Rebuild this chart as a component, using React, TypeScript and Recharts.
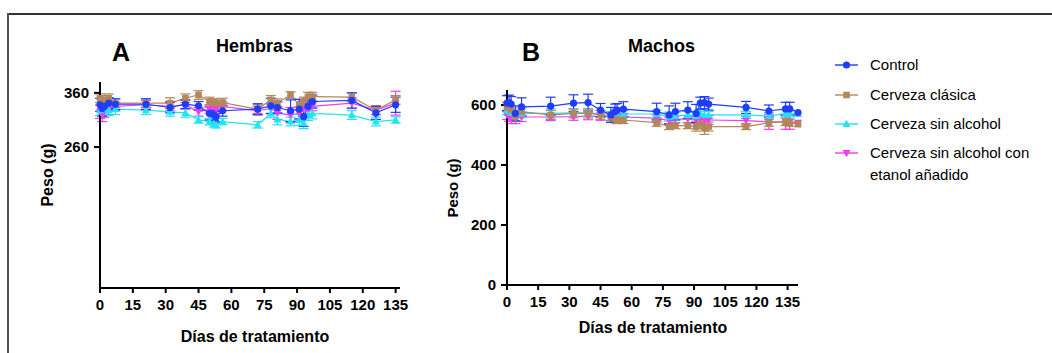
import React from "react";
import { LineChart, Line, XAxis, YAxis, ErrorBar } from "recharts";

// ---- data ----
const daysA = [0, 1, 2, 4, 7, 21, 32, 39, 45, 50, 52, 53, 56, 72, 78, 81, 87, 91, 93, 95, 97, 115, 126, 135];
const controlA = [338, 331, 335, 341, 339, 339, 333, 339, 336, 322, 319, 316, 327, 330, 336, 333, 327, 330, 316, 335, 344, 346, 323, 338];
const clasicaA = [350, 347, 344, 350, 341, 341, 341, 350, 356, 344, 341, 341, 342, 330, 347, 341, 356, 338, 344, 353, 353, 352, 328, 347];
const sinAlcA = [328, 330, 331, 328, 330, 328, 325, 323, 310, 307, 303, 301, 307, 301, 322, 311, 307, 310, 304, 319, 322, 319, 307, 310];
const etanolA = [325, 319, 327, 330, 335, 338, 335, 338, 325, 330, 335, 331, 335, 327, 331, 323, 319, 322, 331, 328, 335, 341, 328, 341];
const controlErrA = [12, 14, 10, 10, 10, 10, 10, 8, 8, 12, 10, 10, 10, 10, 14, 10, 20, 18, 18, 14, 12, 14, 12, 14];
const clasicaErrA = [8, 8, 8, 8, 8, 8, 10, 8, 8, 8, 8, 8, 8, 8, 8, 8, 6, 10, 8, 8, 8, 8, 8, 8];
const sinAlcErrA = [10, 10, 10, 10, 10, 8, 8, 8, 6, 6, 6, 6, 6, 6, 8, 10, 8, 10, 10, 10, 10, 8, 8, 6];
const etanolErrA = [12, 12, 12, 10, 8, 8, 8, 8, 8, 8, 8, 8, 8, 8, 10, 12, 14, 12, 12, 12, 8, 10, 8, 22];

const daysB = [0, 1, 2, 4, 7, 21, 32, 39, 45, 50, 52, 53, 56, 72, 78, 81, 87, 91, 93, 95, 97, 115, 126, 134, 136, 140];
const controlB = [606, 608, 603, 572, 594, 596, 606, 608, 583, 567, 578, 583, 586, 578, 567, 578, 583, 572, 606, 608, 603, 592, 580, 587, 587, 575];
const clasicaB = [594, 591, 583, 561, 578, 567, 572, 572, 567, 560, 553, 550, 550, 541, 528, 531, 531, 528, 536, 522, 528, 528, 541, 544, 541, 536];
const sinAlcB = [583, 580, 574, 563, 572, 572, 574, 574, 570, 563, 567, 567, 570, 570, 561, 563, 567, 563, 572, 567, 567, 567, 563, 572, 572, 570];
const etanolB = [567, 561, 556, 556, 560, 560, 561, 563, 561, 560, 556, 560, 560, 556, 548, 553, 553, 550, 553, 550, 550, 548, 544, 544, 544, 541];
const controlErrB = [25, 25, 25, 25, 30, 30, 28, 28, 22, 25, 25, 22, 25, 28, 30, 28, 28, 30, 20, 20, 20, 20, 20, 22, 22, 0];
const clasicaErrB = [15, 15, 15, 15, 15, 15, 15, 15, 15, 12, 12, 12, 12, 12, 10, 10, 10, 15, 15, 20, 15, 10, 12, 12, 12, 0];
const sinAlcErrB = [15, 15, 15, 15, 15, 15, 12, 12, 12, 15, 15, 15, 12, 12, 15, 12, 12, 12, 12, 12, 12, 12, 12, 12, 12, 0];
const etanolErrB = [15, 15, 18, 18, 15, 12, 12, 12, 12, 12, 12, 12, 12, 12, 12, 12, 12, 12, 15, 15, 15, 15, 25, 25, 25, 0];

const xTicks = [0, 15, 30, 45, 60, 75, 90, 105, 120, 135];
const yTicksA = [260, 360];
const yTicksB = [0, 200, 400, 600];

const series = [
  { key: "etanol", name: "Cerveza sin alcohol con etanol añadido", color: "#f23cf0", shape: "down" },
  { key: "sinAlc", name: "Cerveza sin alcohol", color: "#22e4ef", shape: "up" },
  { key: "clasica", name: "Cerveza clásica", color: "#b3875a", shape: "square" },
  { key: "control", name: "Control", color: "#1f3dff", shape: "circle" },
];

const buildRows = (days: number[], vals: Record<string, number[]>, errs: Record<string, number[]>) =>
  days.map((d, i) => {
    const row: Record<string, number> = { day: d };
    Object.keys(vals).forEach((k) => {
      row[k] = vals[k][i];
      row[k + "Err"] = errs[k][i];
    });
    return row;
  });

const dataA = buildRows(
  daysA,
  { control: controlA, clasica: clasicaA, sinAlc: sinAlcA, etanol: etanolA },
  { control: controlErrA, clasica: clasicaErrA, sinAlc: sinAlcErrA, etanol: etanolErrA }
);
const dataB = buildRows(
  daysB,
  { control: controlB, clasica: clasicaB, sinAlc: sinAlcB, etanol: etanolB },
  { control: controlErrB, clasica: clasicaErrB, sinAlc: sinAlcErrB, etanol: etanolErrB }
);

const FONT = "'Liberation Sans', Arial, sans-serif";

const Marker = ({ shape, color, cx, cy }: { shape: string; color: string; cx: number; cy: number }) => {
  if (shape === "circle") return <circle cx={cx} cy={cy} r={3.6} fill={color} />;
  if (shape === "square") return <rect x={cx - 3.3} y={cy - 3.3} width={6.6} height={6.6} fill={color} />;
  if (shape === "up") return <polygon points={`${cx},${cy - 4.2} ${cx - 4},${cy + 3} ${cx + 4},${cy + 3}`} fill={color} />;
  return <polygon points={`${cx},${cy + 4.2} ${cx - 4},${cy - 3} ${cx + 4},${cy - 3}`} fill={color} />;
};

const makeDot = (shape: string, color: string) => (props: any) => {
  const { cx, cy, index } = props;
  if (cx == null || cy == null) return <g key={`d-${index}`} />;
  return (
    <g key={`d-${index}`}>
      <Marker shape={shape} color={color} cx={cx} cy={cy} />
    </g>
  );
};

const tickStyle = { fill: "#000", fontSize: 15, fontWeight: 700, fontFamily: FONT };

const Panel = ({
  data,
  yDomain,
  yTicks,
  xDomain,
  margin,
  width,
}: {
  data: any[];
  yDomain: [number, number];
  yTicks: number[];
  xDomain: [number, number];
  margin: { top: number; right: number; bottom: number; left: number };
  width: number;
}) => (
  <LineChart width={width} height={353} data={data} margin={margin}>
    <XAxis
      dataKey="day"
      type="number"
      domain={xDomain}
      ticks={xTicks}
      interval={0}
      height={30}
      axisLine={{ stroke: "#000", strokeWidth: 2 }}
      tickLine={{ stroke: "#000", strokeWidth: 2 }}
      tickSize={5}
      tickMargin={6}
      tick={tickStyle}
    />
    <YAxis
      type="number"
      domain={yDomain}
      ticks={yTicks}
      interval={0}
      width={60}
      axisLine={{ stroke: "#000", strokeWidth: 2 }}
      tickLine={{ stroke: "#000", strokeWidth: 2 }}
      tickSize={6}
      tickMargin={5}
      tick={tickStyle}
    />
    {series.map((s) => (
      <Line
        key={s.key}
        dataKey={s.key}
        name={s.name}
        stroke={s.color}
        strokeWidth={1.2}
        type="linear"
        dot={makeDot(s.shape, s.color)}
        activeDot={false}
        isAnimationActive={false}
      >
        <ErrorBar dataKey={s.key + "Err"} width={5} stroke={s.color} strokeWidth={1.2} direction="y" />
      </Line>
    ))}
  </LineChart>
);

const abs = (left: number, top: number, extra: React.CSSProperties = {}): React.CSSProperties => ({
  position: "absolute",
  left,
  top,
  fontFamily: FONT,
  color: "#000",
  whiteSpace: "nowrap",
  ...extra,
});

const legendOrder = ["control", "clasica", "sinAlc", "etanol"];
const legendY = [65, 95, 124, 153];

export default function App() {
  return (
    <div style={{ position: "absolute", left: 0, top: 0, width: 1052, height: 353, background: "#fff", overflow: "hidden" }}>
      {/* frame */}
      <div style={{ position: "absolute", left: 7, top: 13, width: 1045, height: 2, background: "#333" }} />
      <div style={{ position: "absolute", left: 7, top: 13, width: 2, height: 340, background: "#555" }} />

      <div style={{ position: "absolute", left: 0, top: 0 }}>
        <Panel data={dataA} yDomain={[0, 380]} yTicks={yTicksA} xDomain={[0, 137]} width={420}
          margin={{ top: 82, right: 20, bottom: 35, left: 40 }} />
      </div>
      <div style={{ position: "absolute", left: 420, top: 0 }}>
        <Panel data={dataB} yDomain={[0, 650]} yTicks={yTicksB} xDomain={[0, 140]} width={400}
          margin={{ top: 90, right: 22, bottom: 38, left: 27 }} />
      </div>

      {/* panel letters and titles */}
      <div style={abs(112, 38, { fontSize: 25, fontWeight: 700, lineHeight: "28px" })}>A</div>
      <div style={abs(216, 36, { fontSize: 18, fontWeight: 700, lineHeight: "20px" })}>Hembras</div>
      <div style={abs(522, 38, { fontSize: 25, fontWeight: 700, lineHeight: "28px" })}>B</div>
      <div style={abs(628, 36, { fontSize: 18, fontWeight: 700, lineHeight: "20px" })}>Machos</div>

      {/* axis titles */}
      <div style={abs(48, 175, { fontSize: 16, fontWeight: 700, transform: "translate(-50%, -50%) rotate(-90deg)" })}>Peso (g)</div>
      <div style={abs(452, 188, { fontSize: 15, fontWeight: 700, transform: "translate(-50%, -50%) rotate(-90deg)" })}>Peso (g)</div>
      <div style={abs(255, 337, { fontSize: 16, fontWeight: 700, transform: "translate(-50%, -50%)" })}>Días de tratamiento</div>
      <div style={abs(653, 328, { fontSize: 16, fontWeight: 700, transform: "translate(-50%, -50%)" })}>Días de tratamiento</div>

      {/* legend */}
      {legendOrder.map((k, i) => {
        const s = series.find((x) => x.key === k)!;
        const y = legendY[i];
        return (
          <React.Fragment key={k}>
            <svg style={{ position: "absolute", left: 834, top: y - 6 }} width={26} height={12}>
              <line x1={1} y1={6} x2={24} y2={6} stroke={s.color} strokeWidth={1.4} />
              <Marker shape={s.shape} color={s.color} cx={12.5} cy={6} />
            </svg>
            <div style={abs(870, y - 11, { fontSize: 15, lineHeight: "22px" })}>
              {k === "etanol" ? (
                <>
                  Cerveza sin alcohol con
                  <br />
                  etanol añadido
                </>
              ) : (
                s.name
              )}
            </div>
          </React.Fragment>
        );
      })}
    </div>
  );
}
